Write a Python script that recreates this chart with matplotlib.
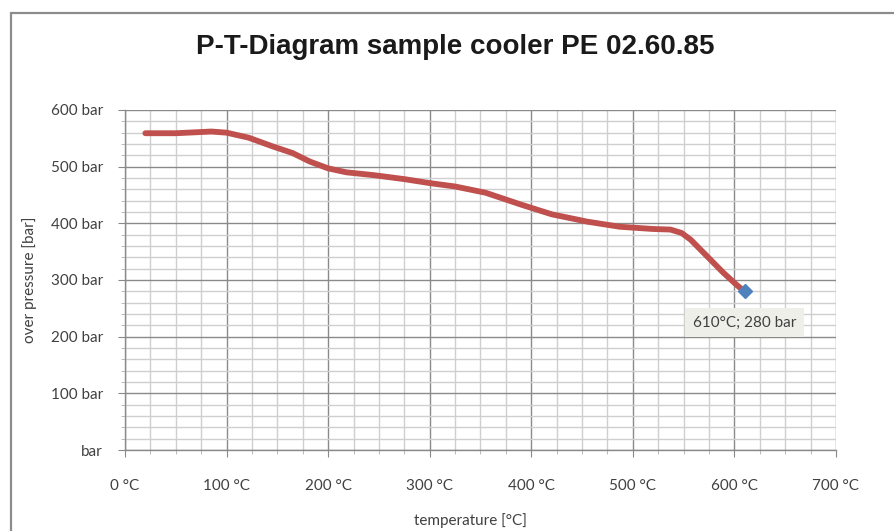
import matplotlib
matplotlib.use("Agg")
import matplotlib.pyplot as plt
from matplotlib.ticker import MultipleLocator, FuncFormatter
from matplotlib.patches import Rectangle

temperature_c = [20, 50, 85, 100, 122, 145, 165, 182, 200, 218, 245, 275, 300, 325,
                 355, 390, 420, 455, 487, 520, 537, 548, 557, 573, 589, 603, 610]
pressure_bar = [559, 559, 562, 560, 551, 536, 524, 509, 497, 490, 485, 478, 471, 465,
                454, 433, 416, 403, 394, 390, 389, 383, 371, 342, 313, 290, 280]
end_point = (610, 280)
end_label = "610°C; 280 bar"
x_ticks = [0, 100, 200, 300, 400, 500, 600, 700]
y_ticks = [0, 100, 200, 300, 400, 500, 600]

W, H = 895, 531
fig = plt.figure(figsize=(W / 100, H / 100), dpi=100)
fig.patch.set_facecolor("white")

# chart border (cut off at right/bottom)
fig.patches.append(Rectangle((11 / W, -0.1), 1.2, 1 - 13 / H + 0.1,
                             transform=fig.transFigure, fill=False,
                             edgecolor="#8c8c8c", linewidth=1.6))

left, right, top, bottom = 125, 836, 110, 450
ax = fig.add_axes([left / W, 1 - bottom / H, (right - left) / W, (bottom - top) / H])
ax.set_xlim(0, 700)
ax.set_ylim(0, 600)

font = "Lato"
ax.xaxis.set_major_locator(MultipleLocator(100))
ax.xaxis.set_minor_locator(MultipleLocator(25))
ax.yaxis.set_major_locator(MultipleLocator(100))
ax.yaxis.set_minor_locator(MultipleLocator(20))
ax.grid(which="major", color="#8a8a8a", linewidth=1.0)
ax.grid(which="minor", color="#cfcfcf", linewidth=1.0)
ax.set_axisbelow(True)
for s in ["top", "right"]:
    ax.spines[s].set_visible(False)
for s in ["left", "bottom"]:
    ax.spines[s].set_color("#8a8a8a")
    ax.spines[s].set_linewidth(1.0)

ax.set_xticks(x_ticks)
ax.set_yticks(y_ticks)
ax.xaxis.set_major_formatter(FuncFormatter(lambda v, p: f"{int(v)} °C"))
ax.yaxis.set_major_formatter(FuncFormatter(lambda v, p: "bar" if v == 0 else f"{int(v)} bar"))
ax.tick_params(which="major", length=5, color="#8a8a8a", labelsize=11,
               labelcolor="#404040")
ax.tick_params(axis="x", which="major", pad=16)
ax.tick_params(axis="y", which="major", pad=11)
ax.tick_params(which="minor", length=3, color="#b0b0b0")
for lab in ax.get_xticklabels() + ax.get_yticklabels():
    lab.set_fontfamily(font)

ax.plot(temperature_c, pressure_bar, color="#c0504d", linewidth=4.2,
        solid_capstyle="round", solid_joinstyle="round", zorder=3)
ax.plot([end_point[0]], [end_point[1]], marker="D", markersize=7,
        color="#4f81bd", markeredgecolor="#4f81bd", zorder=4)
ax.annotate(end_label, xy=end_point, xytext=(0, -22.5), textcoords="offset points",
            ha="center", va="center", fontsize=11, color="#404040", family=font,
            bbox=dict(boxstyle="square,pad=0.5", fc="#efefea", ec="none"))

fig.text(455 / W, 1 - 47 / H, "P-T-Diagram sample cooler PE 02.60.85",
         ha="center", va="center", fontsize=20, fontweight="bold",
         family="Liberation Sans", color="#1a1a1a")
fig.text(470 / W, 1 - 521 / H, "temperature [°C]", ha="center", va="center",
         fontsize=11, color="#404040", family=font)
fig.text(30 / W, 1 - 280 / H, "over pressure [bar]", ha="center", va="center",
         rotation=90, fontsize=11, color="#404040", family=font)

fig.savefig("out.png", dpi=100)
